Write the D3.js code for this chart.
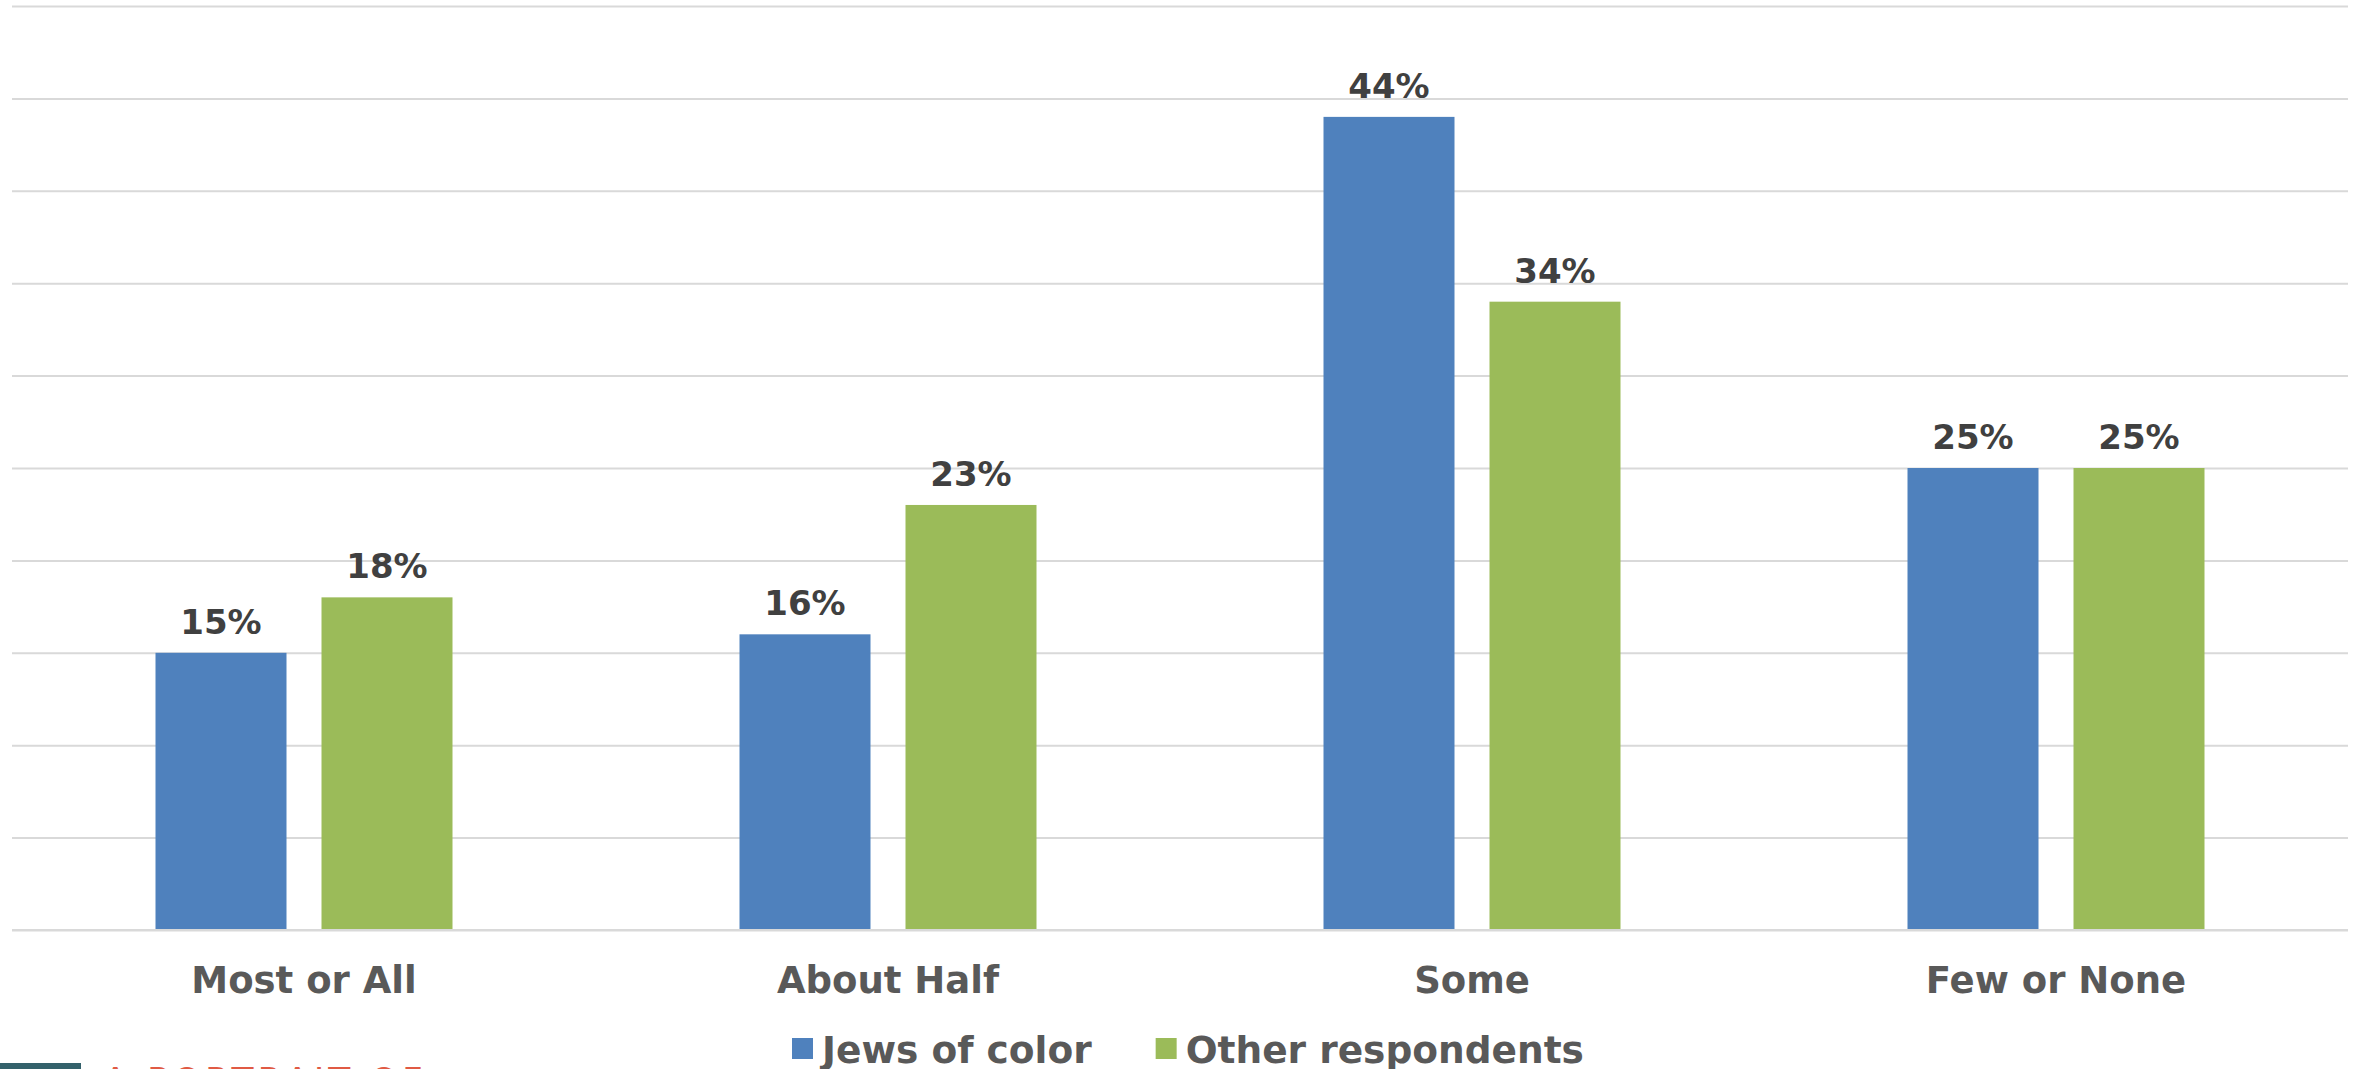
<!DOCTYPE html>
<html>
<head>
<meta charset="utf-8">
<script src="https://cdn.jsdelivr.net/npm/d3@7"></script>
<style>
  html, body { margin: 0; padding: 0; background: #ffffff; overflow: hidden; }
  svg { display: block; }
</style>
</head>
<body>
<svg id="chart" width="2361" height="1069"></svg>
<script>
const categories = ["Most or All", "About Half", "Some", "Few or None"];
const seriesNames = ["Jews of color", "Other respondents"];
const jewsOfColor = [15, 16, 44, 25];
const otherRespondents = [18, 23, 34, 25];
const yTicks = [0, 5, 10, 15, 20, 25, 30, 35, 40, 45, 50];
const colors = ["#4f81bd", "#9bbb59"];

const seriesValues = [jewsOfColor, otherRespondents];
const data = categories.map((c, i) => ({
  category: c,
  values: seriesNames.map((s, k) => ({ series: s, value: seriesValues[k][i], k }))
}));

const svg = d3.select("#chart");
const font = "'DejaVu Sans', Verdana, sans-serif";

const plotLeft = 12, plotRight = 2348, plotTop = 6, plotBottom = 930;

const x0 = d3.scaleBand().domain(categories).range([plotLeft, plotRight]).padding(0);
const bw = x0.bandwidth();
const groupW = 297;
const x1 = d3.scaleBand().domain(seriesNames)
  .range([bw / 2 - groupW / 2, bw / 2 + groupW / 2])
  .paddingInner(35 / 166).paddingOuter(0);
const y = d3.scaleLinear().domain([0, 50]).range([plotBottom, plotTop]);
const color = d3.scaleOrdinal().domain(seriesNames).range(colors);

// gridlines
const grid = svg.append("g")
  .attr("transform", `translate(${plotLeft},0)`)
  .call(d3.axisLeft(y).tickValues(yTicks).tickSize(-(plotRight - plotLeft)).tickFormat(""));
grid.select(".domain").remove();
grid.selectAll(".tick line").attr("stroke", "#d9d9d9").attr("stroke-width", 2);

// bars
const groups = svg.append("g").selectAll("g.cat")
  .data(data).join("g")
  .attr("class", "cat")
  .attr("transform", d => `translate(${x0(d.category)},0)`);

groups.selectAll("rect")
  .data(d => d.values).join("rect")
  .attr("x", d => x1(d.series))
  .attr("width", x1.bandwidth())
  .attr("y", d => y(d.value))
  .attr("height", d => y(0) - y(d.value))
  .attr("fill", d => color(d.series));

groups.selectAll("text.val")
  .data(d => d.values).join("text")
  .attr("class", "val")
  .attr("x", d => x1(d.series) + x1.bandwidth() / 2)
  .attr("y", d => y(d.value) - 19)
  .attr("text-anchor", "middle")
  .attr("font-family", font)
  .attr("font-weight", "bold")
  .attr("font-size", 34)
  .attr("fill", "#404040")
  .text(d => d.value + "%");

// baseline on top of bars
svg.append("line")
  .attr("x1", plotLeft).attr("x2", plotRight)
  .attr("y1", y(0)).attr("y2", y(0))
  .attr("stroke", "#d9d9d9").attr("stroke-width", 2);

// category axis labels
const xAxis = svg.append("g")
  .attr("transform", `translate(0,${plotBottom})`)
  .call(d3.axisBottom(x0).tickSize(0).tickPadding(0));
xAxis.select(".domain").remove();
xAxis.selectAll(".tick text")
  .attr("dy", null)
  .attr("y", 63)
  .attr("font-family", font)
  .attr("font-weight", "bold")
  .attr("font-size", 37)
  .attr("fill", "#595959");

// legend
const legend = svg.append("g").attr("class", "legend");
let lx = 792;
seriesNames.forEach((s, k) => {
  legend.append("rect")
    .attr("x", lx).attr("y", 1038)
    .attr("width", 21).attr("height", 21)
    .attr("fill", color(s));
  const t = legend.append("text")
    .attr("x", lx + 30).attr("y", 1063)
    .attr("font-family", font)
    .attr("font-weight", "bold")
    .attr("font-size", 37.5)
    .attr("fill", "#595959")
    .text(s);
  const w = t.node().getComputedTextLength();
  lx = lx + 30 + w + 64;
});

// partially visible logo at bottom-left
svg.append("rect")
  .attr("x", 0).attr("y", 1063).attr("width", 81).attr("height", 10)
  .attr("fill", "#33616b");
svg.append("text")
  .attr("x", 103).attr("y", 1093)
  .attr("font-family", font)
  .attr("font-size", 36)
  .attr("letter-spacing", 4)
  .attr("fill", "#e05a44")
  .text("A PORTRAIT OF");
</script>
</body>
</html>
